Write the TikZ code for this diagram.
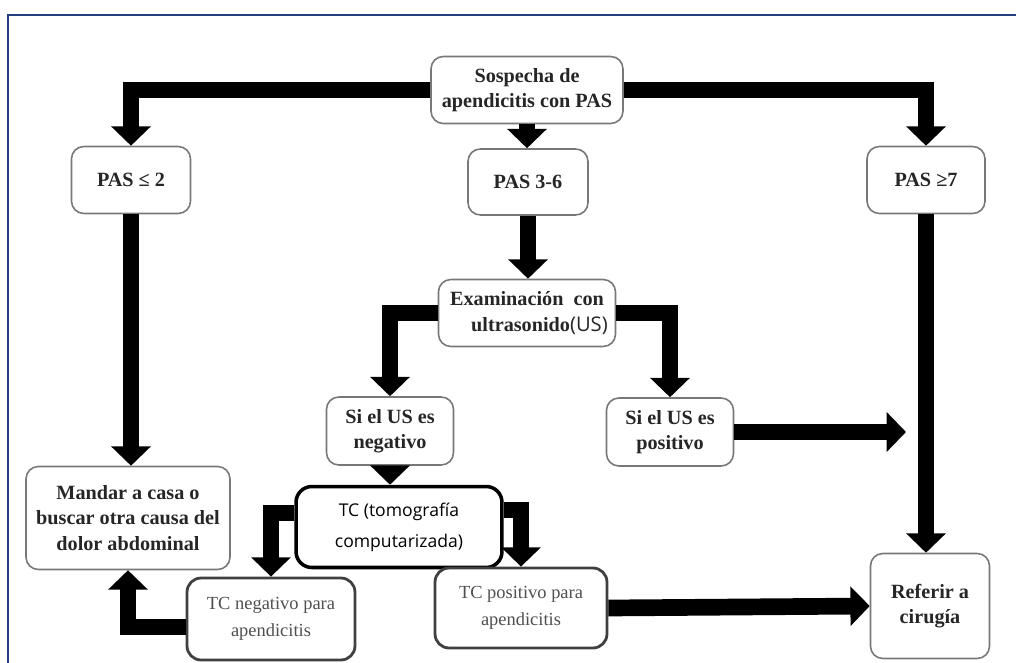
\documentclass[tikz,border=0pt]{standalone}
\usepackage{fontspec}
\setmainfont{Liberation Serif}
\newfontfamily\tcfont{Open Sans}
\usetikzlibrary{positioning}
\usetikzlibrary{calc}
\usetikzlibrary{arrows.meta}
\definecolor{frameblue}{RGB}{38,62,128}
\definecolor{boxgray}{RGB}{120,120,120}
\definecolor{txtgray}{RGB}{80,80,80}

\begin{document}
\begin{tikzpicture}[x=0.02cm, y=-0.02cm,
    box/.style={draw=boxgray, line width=0.9pt, rounded corners=7pt, fill=white, align=center, inner sep=2pt, font=\bfseries\fontsize{11.5}{14.5}\selectfont, text=black!85},
    tcbox/.style={draw=black, line width=2pt, rounded corners=9pt, fill=white, align=center, font=\tcfont\fontsize{10}{17.5}\selectfont},
    resbox/.style={draw=black!75, line width=1.6pt, rounded corners=8pt, fill=white, align=center, font=\fontsize{10.5}{15.5}\selectfont, text=txtgray},
    flow/.style={line width=9.5pt, -{Triangle[length=11pt,width=22pt]}}]
    \useasboundingbox (0,0) rectangle (1016,662);
    \draw[frameblue, line width=1.2pt] (8,670) -- (8,15) -- (1024,15);

    \node[box, minimum width=3.84cm, minimum height=1.34cm] (sospecha) at (527,90) {Sospecha de\\apendicitis con PAS};
    \node[box, minimum width=2.38cm, minimum height=1.34cm] (pasbajo) at (131,180) {PAS ≤ 2};
    \node[box, minimum width=2.4cm, minimum height=1.32cm] (pasmedio) at (528,182) {PAS 3-6};
    \node[box, minimum width=2.36cm, minimum height=1.34cm] (pasalto) at (926,180) {PAS ≥7};
    \node[box, minimum width=3.54cm, minimum height=1.34cm] (examen) at (527,313) {Examinación\enspace con\\\hspace*{0.5cm}ultrasonido{\tcfont\mdseries(US)}};
    \node[box, minimum width=2.54cm, minimum height=1.36cm] (usneg) at (390,431) {Si el US es\\negativo};
    \node[box, minimum width=2.54cm, minimum height=1.36cm] (uspos) at (670,432) {Si el US es\\positivo};
    \node[box, minimum width=4.08cm, minimum height=2.06cm] (mandar) at (128,518) {Mandar a casa o\\buscar otra causa del\\dolor abdominal};
    \node[tcbox, minimum width=4.12cm, minimum height=1.62cm] (tc) at (399,527) {TC (tomografía\\computarizada)};
    \node[resbox, minimum width=3.36cm, minimum height=1.64cm] (tcneg) at (271,619) {TC negativo para\\apendicitis};
    \node[resbox, minimum width=3.44cm, minimum height=1.6cm] (tcpos) at (521,608) {TC positivo para\\apendicitis};
    \node[box, minimum width=2.38cm, minimum height=2.1cm] (referir) at (930,606) {Referir a\\cirugía};
    \coordinate (usposfin) at (906,432);

    \draw[flow] (sospecha.west) -| (pasbajo.north);
    \draw[flow] (sospecha.east) -| (pasalto.north);
    \draw[flow] (sospecha.south) -- (sospecha.south |- pasmedio.north);
    \draw[flow] (pasmedio.south) -- (pasmedio.south |- examen.north);
    \draw[flow] (examen.west) -| (usneg.north);
    \draw[flow] (examen.east) -| (uspos.north);
    \draw[flow] (pasbajo.south) -- (pasbajo.south |- mandar.north);
    \draw[flow] (usneg.south) -- (usneg.south |- tc.north);
    \draw[flow] ($(tc.west)+(0,-14)$) -| (tcneg.north);
    \draw[flow] ($(tc.east)+(0,-17)$) -| (tcpos.north);
    \draw[flow] (uspos.east) -- (usposfin);
    \draw[flow] (pasalto.south) -- (pasalto.south |- referir.north);
    \draw[flow] ($(tcneg.west)+(0,8)$) -| (mandar.south);
    \draw[flow] (tcpos.east) -- (referir.west);
\end{tikzpicture}
\end{document}
